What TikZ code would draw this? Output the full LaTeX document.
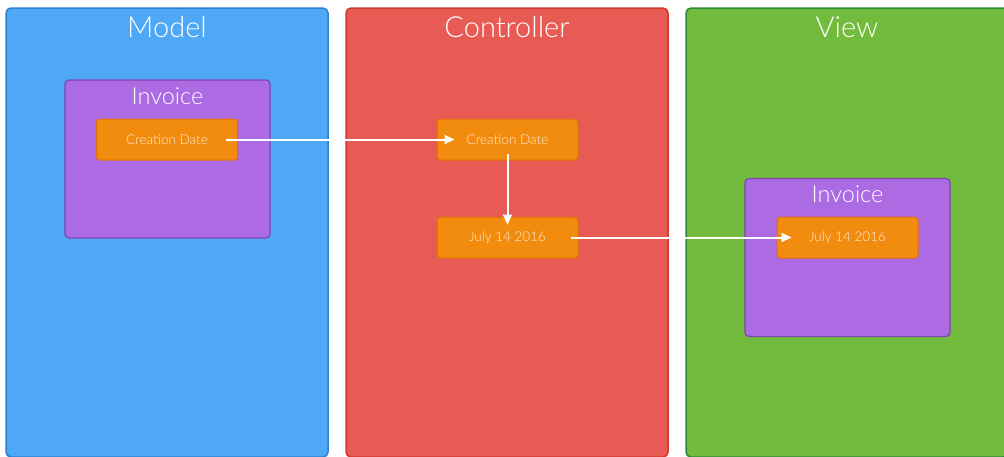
\documentclass[tikz,border=0pt]{standalone}
\usepackage{fontspec}
\setmainfont{Lato Light}
\usetikzlibrary{arrows.meta}

\definecolor{modelblue}{HTML}{4EA8F5}
\definecolor{modelline}{HTML}{2F7FD2}
\definecolor{ctrlred}{HTML}{E85B55}
\definecolor{ctrlline}{HTML}{D2382C}
\definecolor{viewgreen}{HTML}{72BB3D}
\definecolor{viewline}{HTML}{2C8A34}
\definecolor{invpurple}{HTML}{AC6BE3}
\definecolor{invline}{HTML}{7D45B2}
\definecolor{fieldorange}{HTML}{F28C0F}
\definecolor{fieldline}{HTML}{DE6E0B}
\definecolor{fieldtext}{HTML}{FDEBD3}

\tikzset{
  panel/.style={draw, line width=1.5pt, rounded corners=5pt, inner sep=0pt,
    minimum width=322pt, minimum height=449pt},
  paneltitle/.style={text=white, font=\fontsize{29}{34}\selectfont},
  invoice/.style={draw=invline, fill=invpurple, line width=1.2pt, rounded corners=4pt,
    inner sep=0pt, minimum width=205pt, minimum height=158pt},
  invtitle/.style={text=white, font=\fontsize{23.5}{28}\selectfont},
  field/.style={draw=fieldline, fill=fieldorange, line width=1pt, rounded corners=3pt,
    text=fieldtext, font=\fontsize{13.5}{16}\selectfont, minimum width=141pt, minimum height=41pt},
  flow/.style={draw=white, line width=2pt, -{Triangle[length=10pt,width=9pt]}},
}

\begin{document}
\begin{tikzpicture}[x=1pt,y=-1pt]
			\useasboundingbox (0,0) rectangle (1004,456);

			\node[panel, draw=modelline, fill=modelblue] (model) at (167,232.5) {};
			\node[panel, draw=ctrlline, fill=ctrlred] (ctrl) at (507,232.5) {};
			\node[panel, draw=viewline, fill=viewgreen] (view) at (847,232.5) {};
			\node[paneltitle] (modeltitle) at (167,27) {Model};
			\node[paneltitle] (ctrltitle) at (507,27) {Controller};
			\node[paneltitle] (viewtitle) at (847,27) {View};

			\node[invoice] (minv) at (167.5,159) {};
			\node[invoice] (vinv) at (847.5,257.5) {};
			\node[invtitle] (minvtitle) at (167.5,96) {Invoice};
			\node[invtitle] (vinvtitle) at (847.5,194) {Invoice};

			\node[field] (mdate) at (167,139.5) {Creation Date};
			\node[field] (cdate) at (507.5,139.5) {Creation Date};
			\node[field] (cjuly) at (507.5,237.5) {July 14 2016};
			\node[field] (vjuly) at (847.5,237.5) {July 14 2016};

			\draw[flow] ([xshift=-12pt]mdate.east) -- ([xshift=18pt]cdate.west);
			\draw[flow] ([yshift=7pt]cdate.south) -- ([yshift=-8pt]cjuly.north);
			\draw[flow] ([xshift=-8pt]cjuly.east) -- ([xshift=15pt]vjuly.west);
		\end{tikzpicture}
\end{document}
